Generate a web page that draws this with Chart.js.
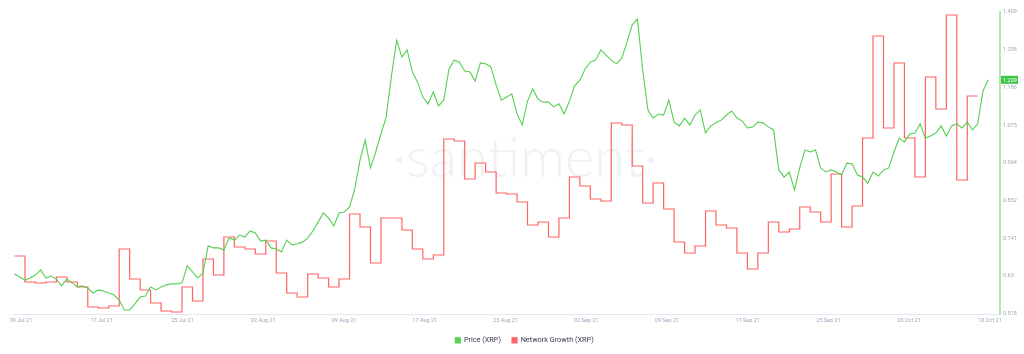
<!DOCTYPE html>
<html>
<head>
<meta charset="utf-8">
<script src="https://cdn.jsdelivr.net/npm/chart.js@4.4.1/dist/chart.umd.min.js"></script>
<style>
  html, body { margin: 0; padding: 0; background: #fff; }
  #wrap { width: 1024px; height: 354px; }
</style>
</head>
<body>
<div id="wrap"><canvas id="chart" width="1024" height="354"></canvas></div>
<script>
// ── Données ────────────────────────────────────────────────────────────────

// Libellés de l'axe X (répartis régulièrement, comme sur Santiment)
const xLabels = ['09 Jul 21', '17 Jul 21', '25 Jul 21', '02 Aug 21', '09 Aug 21', '17 Aug 21',
  '25 Aug 21', '02 Sep 21', '09 Sep 21', '17 Sep 21', '25 Sep 21', '03 Oct 21', '10 Oct 21'];

// Graduations de l'axe prix (droite)
const priceTicks = [0.518, 0.63, 0.741, 0.852, 0.964, 1.075, 1.186, 1.298, 1.409];

// Prix XRP, un point toutes les 12 h à partir du 09 Jul
const price = [
  0.636, 0.627, 0.618, 0.624, 0.633, 0.648, 0.624, 0.630, 0.621, 0.601,
  0.621, 0.610, 0.598, 0.601, 0.595, 0.580, 0.589, 0.586, 0.580, 0.574,
  0.559, 0.530, 0.530, 0.548, 0.568, 0.571, 0.598, 0.589, 0.598, 0.604,
  0.607, 0.607, 0.610, 0.660, 0.642, 0.624, 0.639, 0.719, 0.713, 0.713,
  0.707, 0.742, 0.736, 0.751, 0.745, 0.763, 0.757, 0.733, 0.736, 0.713,
  0.710, 0.701, 0.736, 0.722, 0.725, 0.730, 0.742, 0.763, 0.789, 0.816,
  0.801, 0.778, 0.816, 0.819, 0.834, 0.887, 0.972, 1.031, 0.949, 0.996,
  1.049, 1.099, 1.220, 1.326, 1.276, 1.297, 1.232, 1.202, 1.158, 1.138,
  1.173, 1.132, 1.149, 1.241, 1.267, 1.261, 1.235, 1.232, 1.205, 1.259,
  1.256, 1.247, 1.194, 1.149, 1.158, 1.167, 1.108, 1.076, 1.146, 1.182,
  1.152, 1.143, 1.143, 1.129, 1.138, 1.108, 1.146, 1.191, 1.208, 1.241,
  1.261, 1.267, 1.297, 1.282, 1.267, 1.256, 1.273, 1.320, 1.371, 1.388,
  1.238, 1.120, 1.096, 1.108, 1.105, 1.149, 1.084, 1.073, 1.096, 1.076,
  1.105, 1.120, 1.052, 1.073, 1.082, 1.090, 1.105, 1.117, 1.096, 1.087,
  1.067, 1.070, 1.084, 1.082, 1.070, 1.061, 0.943, 0.922, 0.937, 0.884,
  0.949, 1.002, 0.996, 1.002, 0.949, 0.937, 0.943, 0.937, 0.928, 0.963,
  0.961, 0.928, 0.922, 0.904, 0.937, 0.925, 0.943, 0.949, 0.996, 1.037,
  1.025, 1.049, 1.052, 1.079, 1.037, 1.043, 1.052, 1.073, 1.043, 1.073,
  1.079, 1.067, 1.084, 1.061, 1.079, 1.176, 1.209,
];

// Network growth XRP, une valeur par jour (nouvelles adresses)
const networkGrowth = [
  1450, 800, 775, 800, 925, 800, 675, 175, 150, 200,
  1625, 875, 600, 275, 75, 50, 675, 325, 1375, 975,
  1925, 1675, 1625, 1500, 1825, 1025, 525, 425, 1000, 900,
  675, 875, 2500, 2175, 1275, 2400, 2400, 2100, 1625, 1375,
  1475, 4375, 4325, 3375, 3775, 3550, 3025, 3000, 2800, 2225,
  2300, 1925, 2400, 3425, 3200, 2875, 2825, 4775, 4725, 3700,
  2775, 3275, 2625, 1800, 1525, 1700, 2575, 2225, 2150, 1525,
  1125, 1525, 2300, 2050, 2125, 2675, 2550, 2300, 3500, 2175,
  2700, 4400, 6950, 4650, 6275, 4400, 3425, 5925, 5125, 7475,
  3350, 5450, 5450,
];

// ── Plugins ────────────────────────────────────────────────────────────────

const FONT = 'Roboto, "Noto Sans", sans-serif';
const GREEN = '#55cf50';
const RED = '#ff6363';

// Filigrane « ·santiment· » derrière les courbes
const watermark = {
  id: 'watermark',
  beforeDatasetsDraw(chart) {
    const { ctx } = chart;
    ctx.save();
    ctx.font = '300 56px Lato, sans-serif';
    ctx.fillStyle = '#eff1f7';
    ctx.textAlign = 'center';
    ctx.textBaseline = 'alphabetic';
    ctx.fillText('·santiment·', 525, 177);
    ctx.restore();
  },
};

// Étiquette verte du dernier prix sur l'axe de droite
const lastPriceTag = {
  id: 'lastPriceTag',
  afterDraw(chart) {
    const { ctx, chartArea } = chart;
    const last = price[price.length - 1];
    const y = chart.scales.yPrice.getPixelForValue(last);
    const x = chartArea.right + 1;
    ctx.save();
    ctx.fillStyle = '#3cc447';
    ctx.fillRect(x, y - 4, 17, 8);
    ctx.fillStyle = '#fff';
    ctx.font = '5.5px ' + FONT;
    ctx.textAlign = 'left';
    ctx.textBaseline = 'middle';
    ctx.fillText(last.toFixed(3), x + 2, y + 0.5);
    ctx.restore();
  },
};

// Légère translation de la légende vers la droite
const legendNudge = {
  id: 'legendNudge',
  afterLayout(chart) {
    chart.legend.left += 6;
    chart.legend.right += 6;
  },
};

// ── Graphique ──────────────────────────────────────────────────────────────

const DAY0 = -0.143;          // début de l'axe X (jours)
const DAYS = 94.27;           // largeur de l'axe X (jours)
const TICK0 = 0.62;           // position du premier libellé
const TICK_STEP = 7.7125;     // écart entre libellés

new Chart(document.getElementById('chart'), {
  type: 'line',
  data: {
    datasets: [
      {
        label: 'Price (XRP)',
        data: price.map((v, i) => ({ x: i * 0.5, y: v })),
        yAxisID: 'yPrice',
        borderColor: GREEN,
        backgroundColor: GREEN,
        borderWidth: 1.1,
        pointRadius: 0,
        tension: 0,
      },
      {
        label: 'Network Growth (XRP)',
        data: networkGrowth.map((v, i) => ({ x: i, y: v })),
        yAxisID: 'yNet',
        stepped: true,
        borderColor: RED,
        backgroundColor: RED,
        borderWidth: 1.2,
        pointRadius: 0,
      },
    ],
  },
  options: {
    responsive: false,
    animation: false,
    devicePixelRatio: 1,
    layout: { padding: { top: 12, left: 13, right: 0, bottom: 0 } },
    plugins: {
      legend: {
        position: 'bottom',
        labels: {
          boxWidth: 5,
          boxHeight: 5,
          padding: 11,
          color: '#363b4a',
          font: { size: 7.3, family: FONT },
        },
      },
      tooltip: { enabled: false },
    },
    scales: {
      x: {
        type: 'linear',
        min: DAY0,
        max: DAY0 + DAYS,
        grid: { display: false, drawTicks: false },
        border: { display: true, color: '#e4e7ef', width: 1 },
        afterBuildTicks: s => {
          s.ticks = xLabels.map((_, i) => ({ value: TICK0 + i * TICK_STEP }));
        },
        afterFit: s => { s.height = 11.7; },
        ticks: {
          autoSkip: false,
          maxRotation: 0,
          padding: 3,
          color: '#9ca5ba',
          font: { size: 5.5, family: FONT },
          callback: (v, i) => xLabels[i],
        },
      },
      yPrice: {
        position: 'right',
        min: priceTicks[0],
        max: priceTicks[priceTicks.length - 1],
        grid: { display: false, drawTicks: false },
        border: { display: true, color: '#b8e8b2', width: 2 },
        afterBuildTicks: s => { s.ticks = priceTicks.map(v => ({ value: v })); },
        afterFit: s => { s.width = 24; },
        ticks: {
          padding: 3,
          color: '#9ca5ba',
          font: { size: 5.5, family: FONT },
          callback: v => String(v),
        },
      },
      yNet: {
        display: false,
        min: 0,
        max: 7550,
      },
    },
  },
  plugins: [watermark, lastPriceTag, legendNudge],
});
</script>
</body>
</html>
